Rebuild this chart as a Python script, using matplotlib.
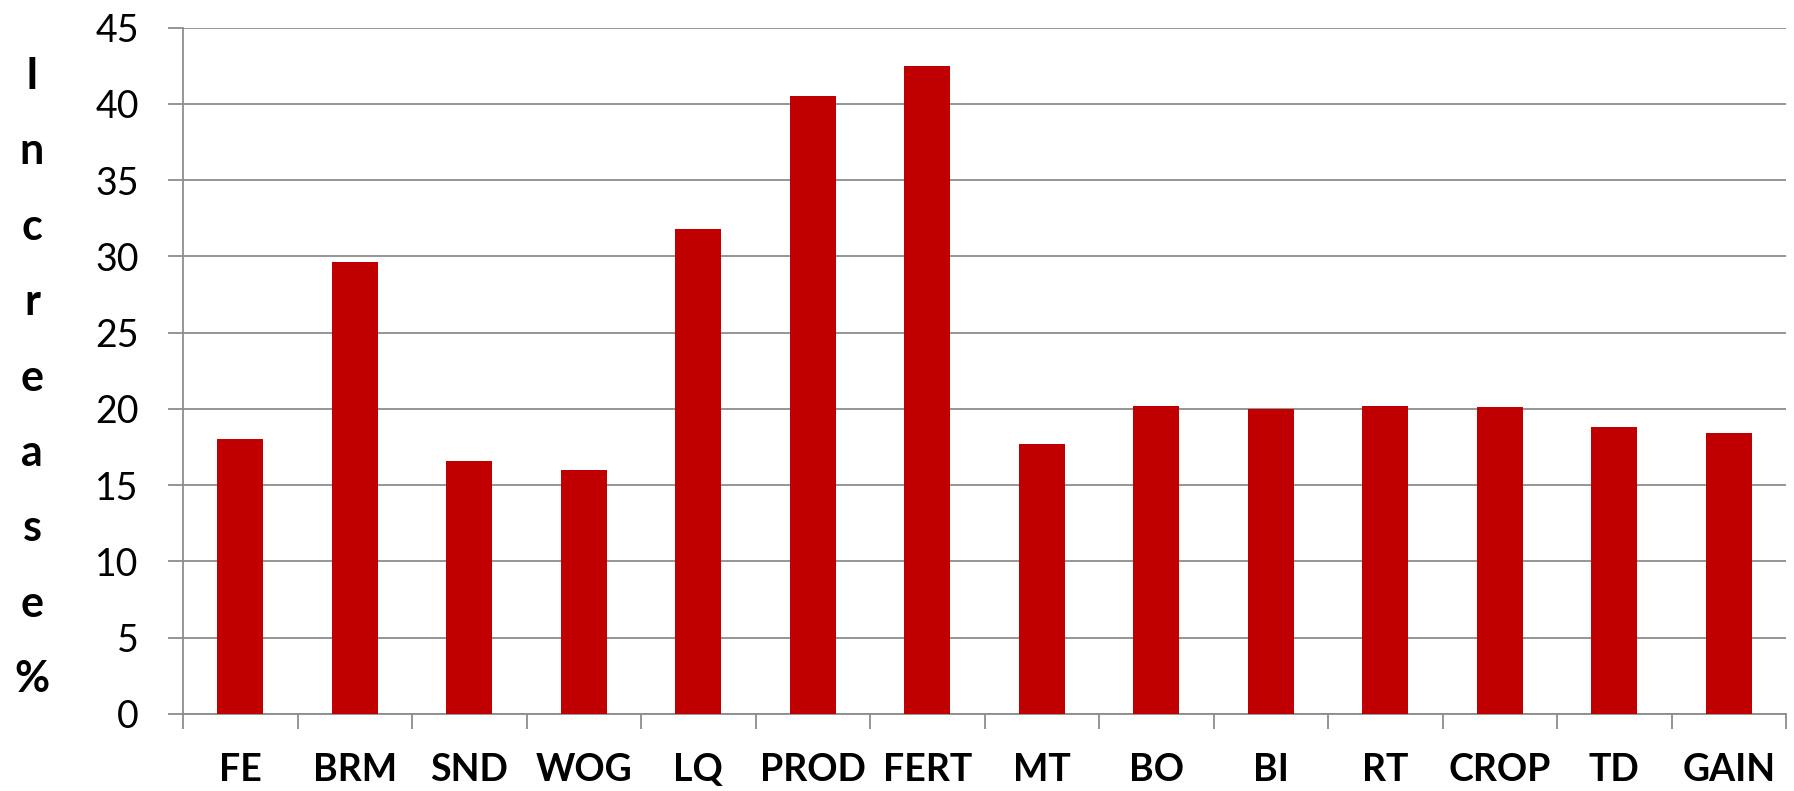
import numpy as np
import matplotlib.pyplot as plt

categories = ['FE', 'BRM', 'SND', 'WOG', 'LQ', 'PROD', 'FERT',
              'MT', 'BO', 'BI', 'RT', 'CROP', 'TD', 'GAIN']
increase = [18.0, 29.6, 16.6, 16.0, 31.8, 40.5, 42.5,
            17.7, 20.2, 20.0, 20.2, 20.1, 18.8, 18.4]
yticks = [0, 5, 10, 15, 20, 25, 30, 35, 40, 45]
ylabel = 'Increase%'

fontname = 'Lato'
grid_color = '#8c8c8c'
W, H = 1794, 791

fig = plt.figure(figsize=(W / 100, H / 100), dpi=100)
ax = fig.add_axes([183 / W, 1 - 714 / H, (1786 - 183) / W, (714 - 27.5) / H])

x = np.arange(len(categories))
ax.bar(x, increase, width=0.4, color='#c00000', zorder=3)

ax.set_xlim(-0.5, len(categories) - 0.5)
ax.set_ylim(0, 45)
ax.set_yticks(yticks)
ax.yaxis.grid(True, color=grid_color, linewidth=1.3, zorder=0)

# category labels at the bar centres, tick marks between categories
ax.set_xticks(x)
ax.set_xticklabels(categories, fontname=fontname, fontsize=27, fontweight='bold')
ax.set_xticks(np.arange(len(categories) + 1) - 0.5, minor=True)
ax.tick_params(axis='x', which='major', length=0, pad=28)
ax.tick_params(axis='x', which='minor', length=10.8, width=1.3, color=grid_color)
ax.tick_params(axis='y', length=10.8, width=1.3, color=grid_color, pad=21,
               labelsize=27)
for lbl in ax.get_yticklabels():
    lbl.set_fontname(fontname)

for side in ['top', 'right']:
    ax.spines[side].set_visible(False)
for side in ['left', 'bottom']:
    ax.spines[side].set_color(grid_color)
    ax.spines[side].set_linewidth(1.3)

# stacked vertical axis title, one letter per line
for i, ch in enumerate(ylabel):
    fig.text(32 / W, 1 - (89 + i * 75.4) / H, ch, ha='center', va='baseline',
             fontname=fontname, fontsize=31, fontweight='bold')

fig.savefig('out.png', dpi=100)
